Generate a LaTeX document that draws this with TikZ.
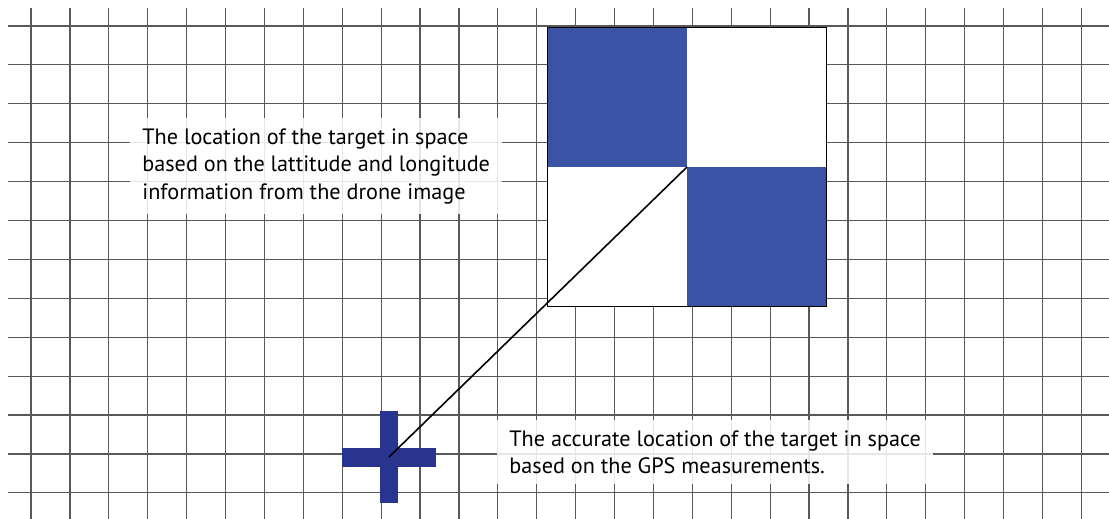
\documentclass[tikz,border=0pt]{standalone}
\usepackage{fontspec}
\setmainfont{PT Sans}
\definecolor{tileblue}{RGB}{58,83,164}
\definecolor{crossblue}{RGB}{40,52,142}

\begin{document}
\begin{tikzpicture}[
  x=0.5pt, y=-0.5pt,
  font=\fontsize{11.1}{13.9}\selectfont,
  gridline/.style={draw=black!65, line width=0.6pt},
  tile/.style={fill=tileblue},
  frame/.style={draw=black, line width=0.8pt},
  crossbar/.style={rectangle, fill=crossblue, inner sep=0pt},
  link/.style={draw=black, line width=0.8pt},
  note/.style={fill=white, fill opacity=0.85, text opacity=1, align=left,
               anchor=north west, inner xsep=6pt, inner ysep=5pt}
]
\useasboundingbox (0,0) rectangle (1109,519);

% background grid
\foreach \i in {0,...,27}
  \draw[gridline] ({31+38.9*\i},8) -- ({31+38.9*\i},519);
\foreach \j in {0,...,12}
  \draw[gridline] (8,{26+38.9*\j}) -- (1109,{26+38.9*\j});

% checkerboard target
\node[minimum size=139pt, inner sep=0pt] (target) at (687,167) {};
\fill[white] (target.north west) rectangle (target.south east);
\fill[tile] (target.north west) rectangle (target.center);
\fill[tile] (target.center) rectangle (target.south east);
\draw[frame] (target.north west) rectangle (target.south east);

% GPS cross
\coordinate (gps) at (389,457);
\node[crossbar, minimum width=9pt, minimum height=46pt] (gpsv) at (gps) {};
\node[crossbar, minimum width=47pt, minimum height=9.5pt] (gpsh) at (gps) {};
\draw[link] (gps) -- (target.center);

\node[note] (droneinfo) at (130,118) {The location of the target in space\\based on the lattitude and longitude\\information from the drone image};
\node[note] (gpsinfo) at (497,420) {The accurate location of the target in space\\based on the GPS measurements.};
\end{tikzpicture}
\end{document}
